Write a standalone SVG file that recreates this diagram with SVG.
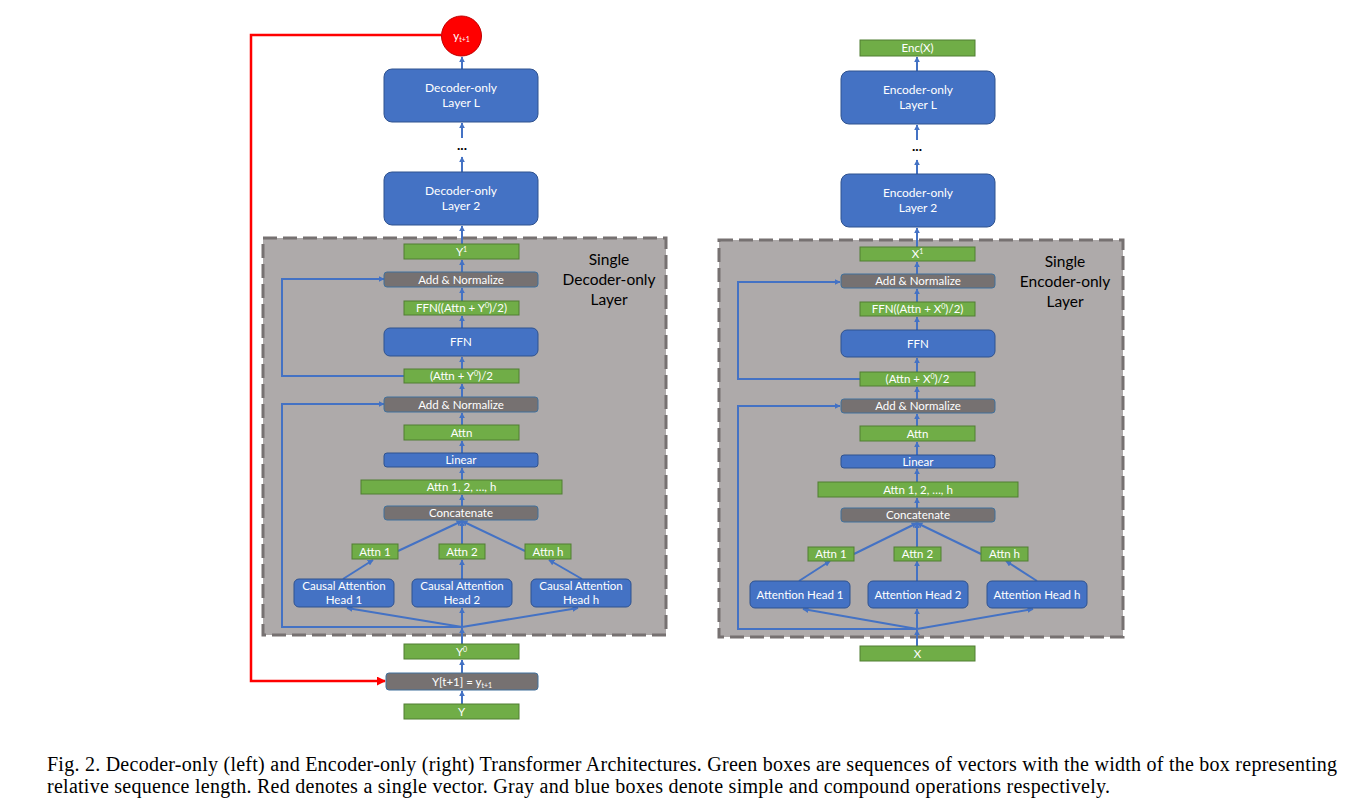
<svg xmlns="http://www.w3.org/2000/svg" width="1371" height="803" viewBox="0 0 1371 803">
<defs>
<marker id="ab" viewBox="0 0 10 10" refX="9" refY="5" markerWidth="6" markerHeight="6" markerUnits="userSpaceOnUse" orient="auto"><path d="M0,0 L10,5 L0,10 z" fill="#4472c4"/></marker>
<marker id="ar" viewBox="0 0 10 10" refX="9" refY="5" markerWidth="9" markerHeight="9" markerUnits="userSpaceOnUse" orient="auto"><path d="M0,0 L10,5 L0,10 z" fill="#ff0000"/></marker>
</defs>
<style>
.g{fill:#70ad47;stroke:#507e32;stroke-width:1}
.b{fill:#4472c4;stroke:#2f528f;stroke-width:1}
.k{fill:#767171;stroke:#41719c;stroke-width:1}
.dash{fill:#aeaaaa;stroke:#767171;stroke-width:3;stroke-dasharray:14 6}
.t{font-family:Lato,"Liberation Sans",sans-serif;font-size:11.5px;fill:#fff;text-anchor:middle}
.tl{font-family:Lato,"Liberation Sans",sans-serif;font-size:12px;fill:#fff;text-anchor:middle}
.ti{font-family:Lato,"Liberation Sans",sans-serif;font-size:15.5px;fill:#000;text-anchor:middle}
.dots{font-family:Lato,"Liberation Sans",sans-serif;font-size:14px;font-weight:bold;fill:#000;text-anchor:middle}
.c{stroke:#4472c4;stroke-width:2;fill:none;marker-end:url(#ab)}
.red{stroke:#ff0000;stroke-width:2.5;fill:none;marker-end:url(#ar)}
.cap{font-family:"Liberation Serif",serif;font-size:20px;fill:#000}
</style>

<g id="dec-layer-box">
<rect class="dash" x="263" y="238" width="403" height="397"/>
<text class="ti" x="609" y="265">Single</text>
<text class="ti" x="609" y="285">Decoder-only</text>
<text class="ti" x="609" y="305">Layer</text>
</g>

<g id="enc-layer-box">
<rect class="dash" x="719" y="240" width="404" height="397"/>
<text class="ti" x="1065" y="267">Single</text>
<text class="ti" x="1065" y="287">Encoder-only</text>
<text class="ti" x="1065" y="307">Layer</text>
</g>

<g id="connectors">
<line class="c" x1="462" y1="69" x2="462" y2="57"/>
<line class="c" x1="462" y1="172" x2="462" y2="157"/>
<line class="c" x1="462" y1="138" x2="462" y2="123"/>
<line class="c" x1="462" y1="244" x2="462" y2="226"/>
<line class="c" x1="462" y1="272" x2="462" y2="260"/>
<line class="c" x1="462" y1="301" x2="462" y2="288"/>
<line class="c" x1="462" y1="328" x2="462" y2="316"/>
<line class="c" x1="462" y1="369" x2="462" y2="357"/>
<line class="c" x1="462" y1="397" x2="462" y2="384"/>
<line class="c" x1="462" y1="425" x2="462" y2="413"/>
<line class="c" x1="462" y1="453" x2="462" y2="441"/>
<line class="c" x1="462" y1="480" x2="462" y2="468"/>
<line class="c" x1="462" y1="506" x2="462" y2="495"/>
<line class="c" x1="398" y1="551" x2="462" y2="521"/>
<line class="c" x1="462" y1="544" x2="462" y2="521"/>
<line class="c" x1="525" y1="551" x2="462" y2="521"/>
<line class="c" x1="343" y1="579" x2="373" y2="560"/>
<line class="c" x1="462" y1="579" x2="462" y2="560"/>
<line class="c" x1="582" y1="579" x2="549" y2="560"/>
<line class="c" x1="462" y1="627" x2="347" y2="608"/>
<line class="c" x1="462" y1="627" x2="462" y2="608"/>
<line class="c" x1="462" y1="627" x2="578" y2="608"/>
<line class="c" x1="462" y1="644" x2="462" y2="628"/>
<polyline class="c" points="462,627 282,627 282,404 384,404"/>
<polyline class="c" points="404,376 282,376 282,279 384,279"/>
<line class="c" x1="462" y1="704" x2="462" y2="691"/>
<line class="c" x1="462" y1="673" x2="462" y2="660"/>
<polyline class="red" points="441,35 251,35 251,681 385,681"/>

<line class="c" x1="917" y1="71" x2="917" y2="57"/>
<line class="c" x1="917" y1="174" x2="917" y2="160"/>
<line class="c" x1="917" y1="140" x2="917" y2="125"/>
<line class="c" x1="917" y1="247" x2="917" y2="228"/>
<line class="c" x1="917" y1="274" x2="917" y2="262"/>
<line class="c" x1="917" y1="302" x2="917" y2="289"/>
<line class="c" x1="917" y1="330" x2="917" y2="317"/>
<line class="c" x1="917" y1="372" x2="917" y2="358"/>
<line class="c" x1="917" y1="399" x2="917" y2="387"/>
<line class="c" x1="917" y1="426" x2="917" y2="414"/>
<line class="c" x1="917" y1="455" x2="917" y2="442"/>
<line class="c" x1="917" y1="482" x2="917" y2="469"/>
<line class="c" x1="917" y1="508" x2="917" y2="498"/>
<line class="c" x1="854" y1="554" x2="917" y2="523"/>
<line class="c" x1="917" y1="547" x2="917" y2="523"/>
<line class="c" x1="981" y1="554" x2="917" y2="523"/>
<line class="c" x1="799" y1="581" x2="830" y2="561"/>
<line class="c" x1="917" y1="581" x2="917" y2="561"/>
<line class="c" x1="1037" y1="581" x2="1006" y2="561"/>
<line class="c" x1="917" y1="629" x2="803" y2="609"/>
<line class="c" x1="917" y1="629" x2="917" y2="609"/>
<line class="c" x1="917" y1="629" x2="1033" y2="609"/>
<line class="c" x1="917" y1="646" x2="917" y2="630"/>
<polyline class="c" points="917,629 738,629 738,406 840,406"/>
<polyline class="c" points="860,379 738,379 738,282 840,282"/>
</g>

<g id="y-next"><circle cx="461.5" cy="36" r="20" fill="#ff0000" stroke="#c00000" stroke-width="1"/><text class="t" x="461.5" y="40">y<tspan font-size="7" dy="2">t+1</tspan></text></g>
<g id="dec-layer-L"><rect class="b" x="384" y="69" width="154" height="53" rx="8"/><text class="tl" x="461" y="92">Decoder-only</text><text class="tl" x="461" y="107">Layer L</text></g>
<g id="dec-dots"><text class="dots" x="462" y="150">...</text></g>
<g id="dec-layer-2"><rect class="b" x="384" y="172" width="154" height="53" rx="8"/><text class="tl" x="461" y="195">Decoder-only</text><text class="tl" x="461" y="210">Layer 2</text></g>
<g id="dec-y1"><rect class="g" x="404" y="244" width="115" height="15"/><text class="t" x="461.5" y="255.5">Y<tspan font-size="7" dy="-4">1</tspan></text></g>
<g id="dec-addnorm2"><rect class="k" x="384" y="272" width="154" height="15" rx="3"/><text class="t" x="461" y="283.5">Add &amp; Normalize</text></g>
<g id="dec-ffn-out"><rect class="g" x="404" y="301" width="115" height="14"/><text class="t" x="461.5" y="312">FFN((Attn + Y<tspan font-size="7" dy="-4">0</tspan><tspan dy="4">)/2)</tspan></text></g>
<g id="dec-ffn"><rect class="b" x="384" y="328" width="154" height="28" rx="6"/><text class="t" x="461" y="346">FFN</text></g>
<g id="dec-avg"><rect class="g" x="404" y="369" width="115" height="14"/><text class="t" x="461.5" y="380">(Attn + Y<tspan font-size="7" dy="-4">0</tspan><tspan dy="4">)/2</tspan></text></g>
<g id="dec-addnorm1"><rect class="k" x="384" y="397" width="154" height="15" rx="3"/><text class="t" x="461" y="408.5">Add &amp; Normalize</text></g>
<g id="dec-attn"><rect class="g" x="404" y="425" width="115" height="15"/><text class="t" x="461.5" y="436.5">Attn</text></g>
<g id="dec-linear"><rect class="b" x="384" y="453" width="154" height="14" rx="3"/><text class="t" x="461" y="464">Linear</text></g>
<g id="dec-attn-all"><rect class="g" x="361" y="480" width="201" height="14"/><text class="t" x="461.5" y="491">Attn 1, 2, …, h</text></g>
<g id="dec-concat"><rect class="k" x="384" y="506" width="154" height="14" rx="3"/><text class="t" x="461" y="517">Concatenate</text></g>
<g id="dec-attn1"><rect class="g" x="352" y="544" width="46" height="15"/><text class="t" x="375" y="555.5">Attn 1</text></g>
<g id="dec-attn2"><rect class="g" x="439" y="544" width="46" height="15"/><text class="t" x="462" y="555.5">Attn 2</text></g>
<g id="dec-attnh"><rect class="g" x="525" y="544" width="46" height="15"/><text class="t" x="548" y="555.5">Attn h</text></g>
<g id="dec-head1"><rect class="b" x="294" y="579" width="100" height="28" rx="5"/><text class="t" x="344" y="590">Causal Attention</text><text class="t" x="344" y="604">Head 1</text></g>
<g id="dec-head2"><rect class="b" x="412" y="579" width="100" height="28" rx="5"/><text class="t" x="462" y="590">Causal Attention</text><text class="t" x="462" y="604">Head 2</text></g>
<g id="dec-headh"><rect class="b" x="531" y="579" width="100" height="28" rx="5"/><text class="t" x="581" y="590">Causal Attention</text><text class="t" x="581" y="604">Head h</text></g>
<g id="dec-y0"><rect class="g" x="404" y="644" width="115" height="15"/><text class="t" x="461.5" y="655.5">Y<tspan font-size="7" dy="-4">0</tspan></text></g>
<g id="dec-update"><rect class="k" x="386" y="673" width="152" height="17" rx="3"/><text class="t" x="462" y="685.5">Y[t+1] = y<tspan font-size="7" dy="2">t+1</tspan></text></g>
<g id="dec-y"><rect class="g" x="404" y="704" width="115" height="15"/><text class="t" x="461.5" y="715.5">Y</text></g>

<g id="enc-out"><rect class="g" x="860" y="40" width="115" height="16"/><text class="t" x="917.5" y="52">Enc(X)</text></g>
<g id="enc-layer-L"><rect class="b" x="841" y="71" width="154" height="53" rx="8"/><text class="tl" x="918" y="94">Encoder-only</text><text class="tl" x="918" y="109">Layer L</text></g>
<g id="enc-dots"><text class="dots" x="917" y="151">...</text></g>
<g id="enc-layer-2"><rect class="b" x="841" y="174" width="154" height="53" rx="8"/><text class="tl" x="918" y="197">Encoder-only</text><text class="tl" x="918" y="212">Layer 2</text></g>
<g id="enc-x1"><rect class="g" x="860" y="247" width="115" height="14"/><text class="t" x="917.5" y="258">X<tspan font-size="7" dy="-4">1</tspan></text></g>
<g id="enc-addnorm2"><rect class="k" x="841" y="274" width="154" height="14" rx="3"/><text class="t" x="918" y="285">Add &amp; Normalize</text></g>
<g id="enc-ffn-out"><rect class="g" x="860" y="302" width="115" height="14"/><text class="t" x="917.5" y="313">FFN((Attn + X<tspan font-size="7" dy="-4">0</tspan><tspan dy="4">)/2)</tspan></text></g>
<g id="enc-ffn"><rect class="b" x="841" y="330" width="154" height="27" rx="6"/><text class="t" x="918" y="347.5">FFN</text></g>
<g id="enc-avg"><rect class="g" x="860" y="372" width="115" height="14"/><text class="t" x="917.5" y="383">(Attn + X<tspan font-size="7" dy="-4">0</tspan><tspan dy="4">)/2</tspan></text></g>
<g id="enc-addnorm1"><rect class="k" x="841" y="399" width="154" height="14" rx="3"/><text class="t" x="918" y="410">Add &amp; Normalize</text></g>
<g id="enc-attn"><rect class="g" x="860" y="426" width="115" height="15"/><text class="t" x="917.5" y="437.5">Attn</text></g>
<g id="enc-linear"><rect class="b" x="841" y="455" width="154" height="13" rx="3"/><text class="t" x="918" y="465.5">Linear</text></g>
<g id="enc-attn-all"><rect class="g" x="818" y="482" width="200" height="15"/><text class="t" x="918" y="493.5">Attn 1, 2, …, h</text></g>
<g id="enc-concat"><rect class="k" x="841" y="508" width="154" height="14" rx="3"/><text class="t" x="918" y="519">Concatenate</text></g>
<g id="enc-attn1"><rect class="g" x="808" y="547" width="46" height="14"/><text class="t" x="831" y="558">Attn 1</text></g>
<g id="enc-attn2"><rect class="g" x="894" y="547" width="47" height="14"/><text class="t" x="917.5" y="558">Attn 2</text></g>
<g id="enc-attnh"><rect class="g" x="981" y="547" width="47" height="14"/><text class="t" x="1004.5" y="558">Attn h</text></g>
<g id="enc-head1"><rect class="b" x="750" y="581" width="100" height="27" rx="5"/><text class="t" x="800" y="598.5">Attention Head 1</text></g>
<g id="enc-head2"><rect class="b" x="868" y="581" width="100" height="27" rx="5"/><text class="t" x="918" y="598.5">Attention Head 2</text></g>
<g id="enc-headh"><rect class="b" x="987" y="581" width="100" height="27" rx="5"/><text class="t" x="1037" y="598.5">Attention Head h</text></g>
<g id="enc-x"><rect class="g" x="860" y="646" width="115" height="15"/><text class="t" x="917.5" y="657.5">X</text></g>

<g id="caption">
<text class="cap" x="47" y="771" textLength="1290" lengthAdjust="spacing">Fig. 2.  Decoder-only (left) and Encoder-only (right) Transformer Architectures. Green boxes are sequences of vectors with the width of the box representing</text>
<text class="cap" x="47" y="793" textLength="1063" lengthAdjust="spacing">relative sequence length. Red denotes a single vector. Gray and blue boxes denote simple and compound operations respectively.</text>
</g>
</svg>
